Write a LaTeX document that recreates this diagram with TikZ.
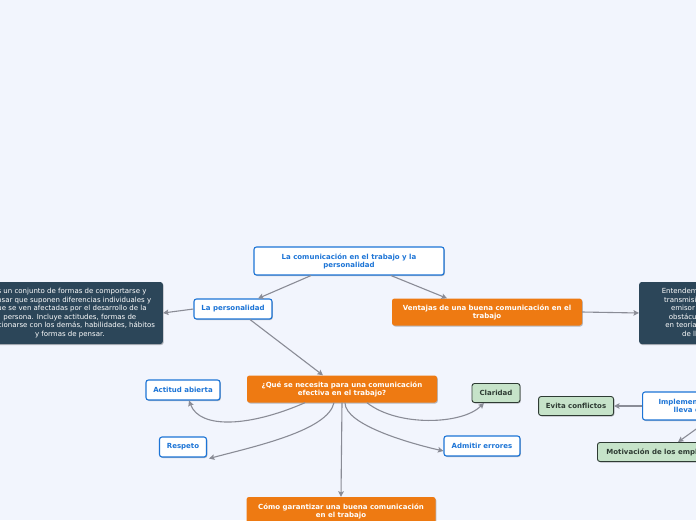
\documentclass[tikz,border=0pt]{standalone}
\usepackage{fontspec}
\setmainfont{DejaVu Sans}
\usetikzlibrary{arrows.meta, positioning, shadows}
\usepackage{xcolor}
\definecolor{fondo}{RGB}{242,245,253}
\definecolor{azul}{RGB}{28,116,214}
\definecolor{naranja}{RGB}{238,122,18}
\definecolor{pizarra}{RGB}{44,70,89}
\definecolor{verde}{RGB}{198,227,201}
\definecolor{verdeosc}{RGB}{46,59,51}
\definecolor{gris}{RGB}{138,140,150}
\tikzset{
  tema/.style={rectangle, rounded corners=2.5pt, inner sep=0pt, align=center,
               font=\fontsize{7}{8}\selectfont\bfseries,
               drop shadow={shadow xshift=0.8pt, shadow yshift=-1pt,
                            opacity=0.25, fill=black}},
  idea/.style={tema, draw=azul, line width=1.1pt, fill=white, text=azul},
  bloque/.style={tema, fill=naranja, text=white},
  nota/.style={tema, draw=verdeosc, line width=0.9pt, fill=verde,
               text=verdeosc},
  texto/.style={tema, fill=pizarra, text=white,
                font=\fontsize{7}{8.5}\selectfont,
                minimum width=186pt, minimum height=62pt},
  flecha/.style={-{Stealth[length=5.5pt, width=5.5pt, inset=1pt]}, gris,
                 line width=1.1pt}
}

\begin{document}
\begin{tikzpicture}[x=1pt, y=-1pt]
  \fill[fondo, use as bounding box] (0,0) rectangle (696,520);
  \clip (0,0) rectangle (696,520);

  % ── Temas principales ──
  \node[idea, minimum width=190pt, minimum height=28pt] (raiz) at (349,261)
        {La comunicación en el trabajo y la\\personalidad};
  \node[idea, minimum width=78pt, minimum height=20pt] (perso) at (233,309)
        {La personalidad};
  \node[bloque, minimum width=190pt, minimum height=27pt] (ventajas) at (487,312)
        {Ventajas de una buena comunicación en el\\trabajo};
  \node[bloque, minimum width=190pt, minimum height=27pt] (necesita) at (342,389)
        {¿Qué se necesita para una comunicación\\efectiva en el trabajo?};
  \node[bloque, minimum width=189pt, minimum height=28pt] (garantia) at (341,511)
        {Cómo garantizar una buena comunicación\\en el trabajo};

  % ── Textos largos ──
  \node[texto, anchor=east] (defperso) at (163,313)
        {Es un conjunto de formas de comportarse y\\
         pensar que suponen diferencias individuales y\\
         que se ven afectadas por el desarrollo de la\\
         persona. Incluye actitudes, formas de\\
         relacionarse con los demás, habilidades, hábitos\\
         y formas de pensar.};
  \node[texto, anchor=west] (defcomu) at (639,313)
        {Entendemos por buena comunicación la\\
         transmisión de la información entre un\\
         emisor y un receptor, sin que haya\\
         obstáculos o filtros que dificulten su\\
         en teoría la difusión del mensaje, más\\
         de llevarla a la práctica real.};

  % ── Requisitos ──
  \node[idea, minimum width=74pt, minimum height=20pt] (actitud) at (183,390)
        {Actitud abierta};
  \node[idea, minimum width=47pt, minimum height=20pt] (respeto) at (183,447)
        {Respeto};
  \node[nota, minimum width=48pt, minimum height=19pt] (claridad) at (496,393)
        {Claridad};
  \node[idea, minimum width=76pt, minimum height=20pt] (errores) at (482,446)
        {Admitir errores};

  % ── Ventajas ──
  \node[idea, anchor=west, inner xsep=16pt, minimum height=28pt] (implementa)
        at (642,406) {Implementar una buena comunicación\\lleva consigo beneficios como:};
  \node[nota, minimum width=75pt, minimum height=19pt, left=28pt of implementa]
        (conflictos) {Evita conflictos};
  \node[nota, anchor=west, inner xsep=9pt, minimum height=19pt] (motivacion)
        at (597,452) {Motivación de los empleados};

  % ── Flechas ──
  \draw[flecha] ([xshift=-38pt]raiz.south) -- ([xshift=25pt]perso.north);
  \draw[flecha] ([xshift=42pt]raiz.south) -- ([xshift=-40pt]ventajas.north);
  \draw[flecha] (perso.west) -- (defperso.east);
  \draw[flecha] ([xshift=17pt]perso.south) -- ([xshift=-19pt]necesita.north);
  \draw[flecha] (ventajas.east) -- (defcomu.west);
  \draw[flecha] (necesita.south) -- (garantia.north);
  \draw[flecha] ([xshift=-37pt]necesita.south) .. controls +(-55,24) and +(11,29)
        .. ([xshift=6pt]actitud.south);
  \draw[flecha] ([xshift=-8pt]necesita.south) .. controls +(-6,28) and +(45,-12)
        .. ([xshift=26pt, yshift=-1pt]respeto.south);
  \draw[flecha] ([xshift=3pt]necesita.south) .. controls +(0,22) and +(-35,-8)
        .. ([yshift=-5pt]errores.west);
  \draw[flecha] ([xshift=25pt]necesita.south) .. controls +(30,24) and +(-22,22)
        .. ([xshift=-12pt]claridad.south);
  \draw[flecha] (implementa.west) -- (conflictos.east);
  \draw[flecha] ([xshift=66pt]implementa.south west) -- ([xshift=81pt]motivacion.north west);
\end{tikzpicture}
\end{document}
